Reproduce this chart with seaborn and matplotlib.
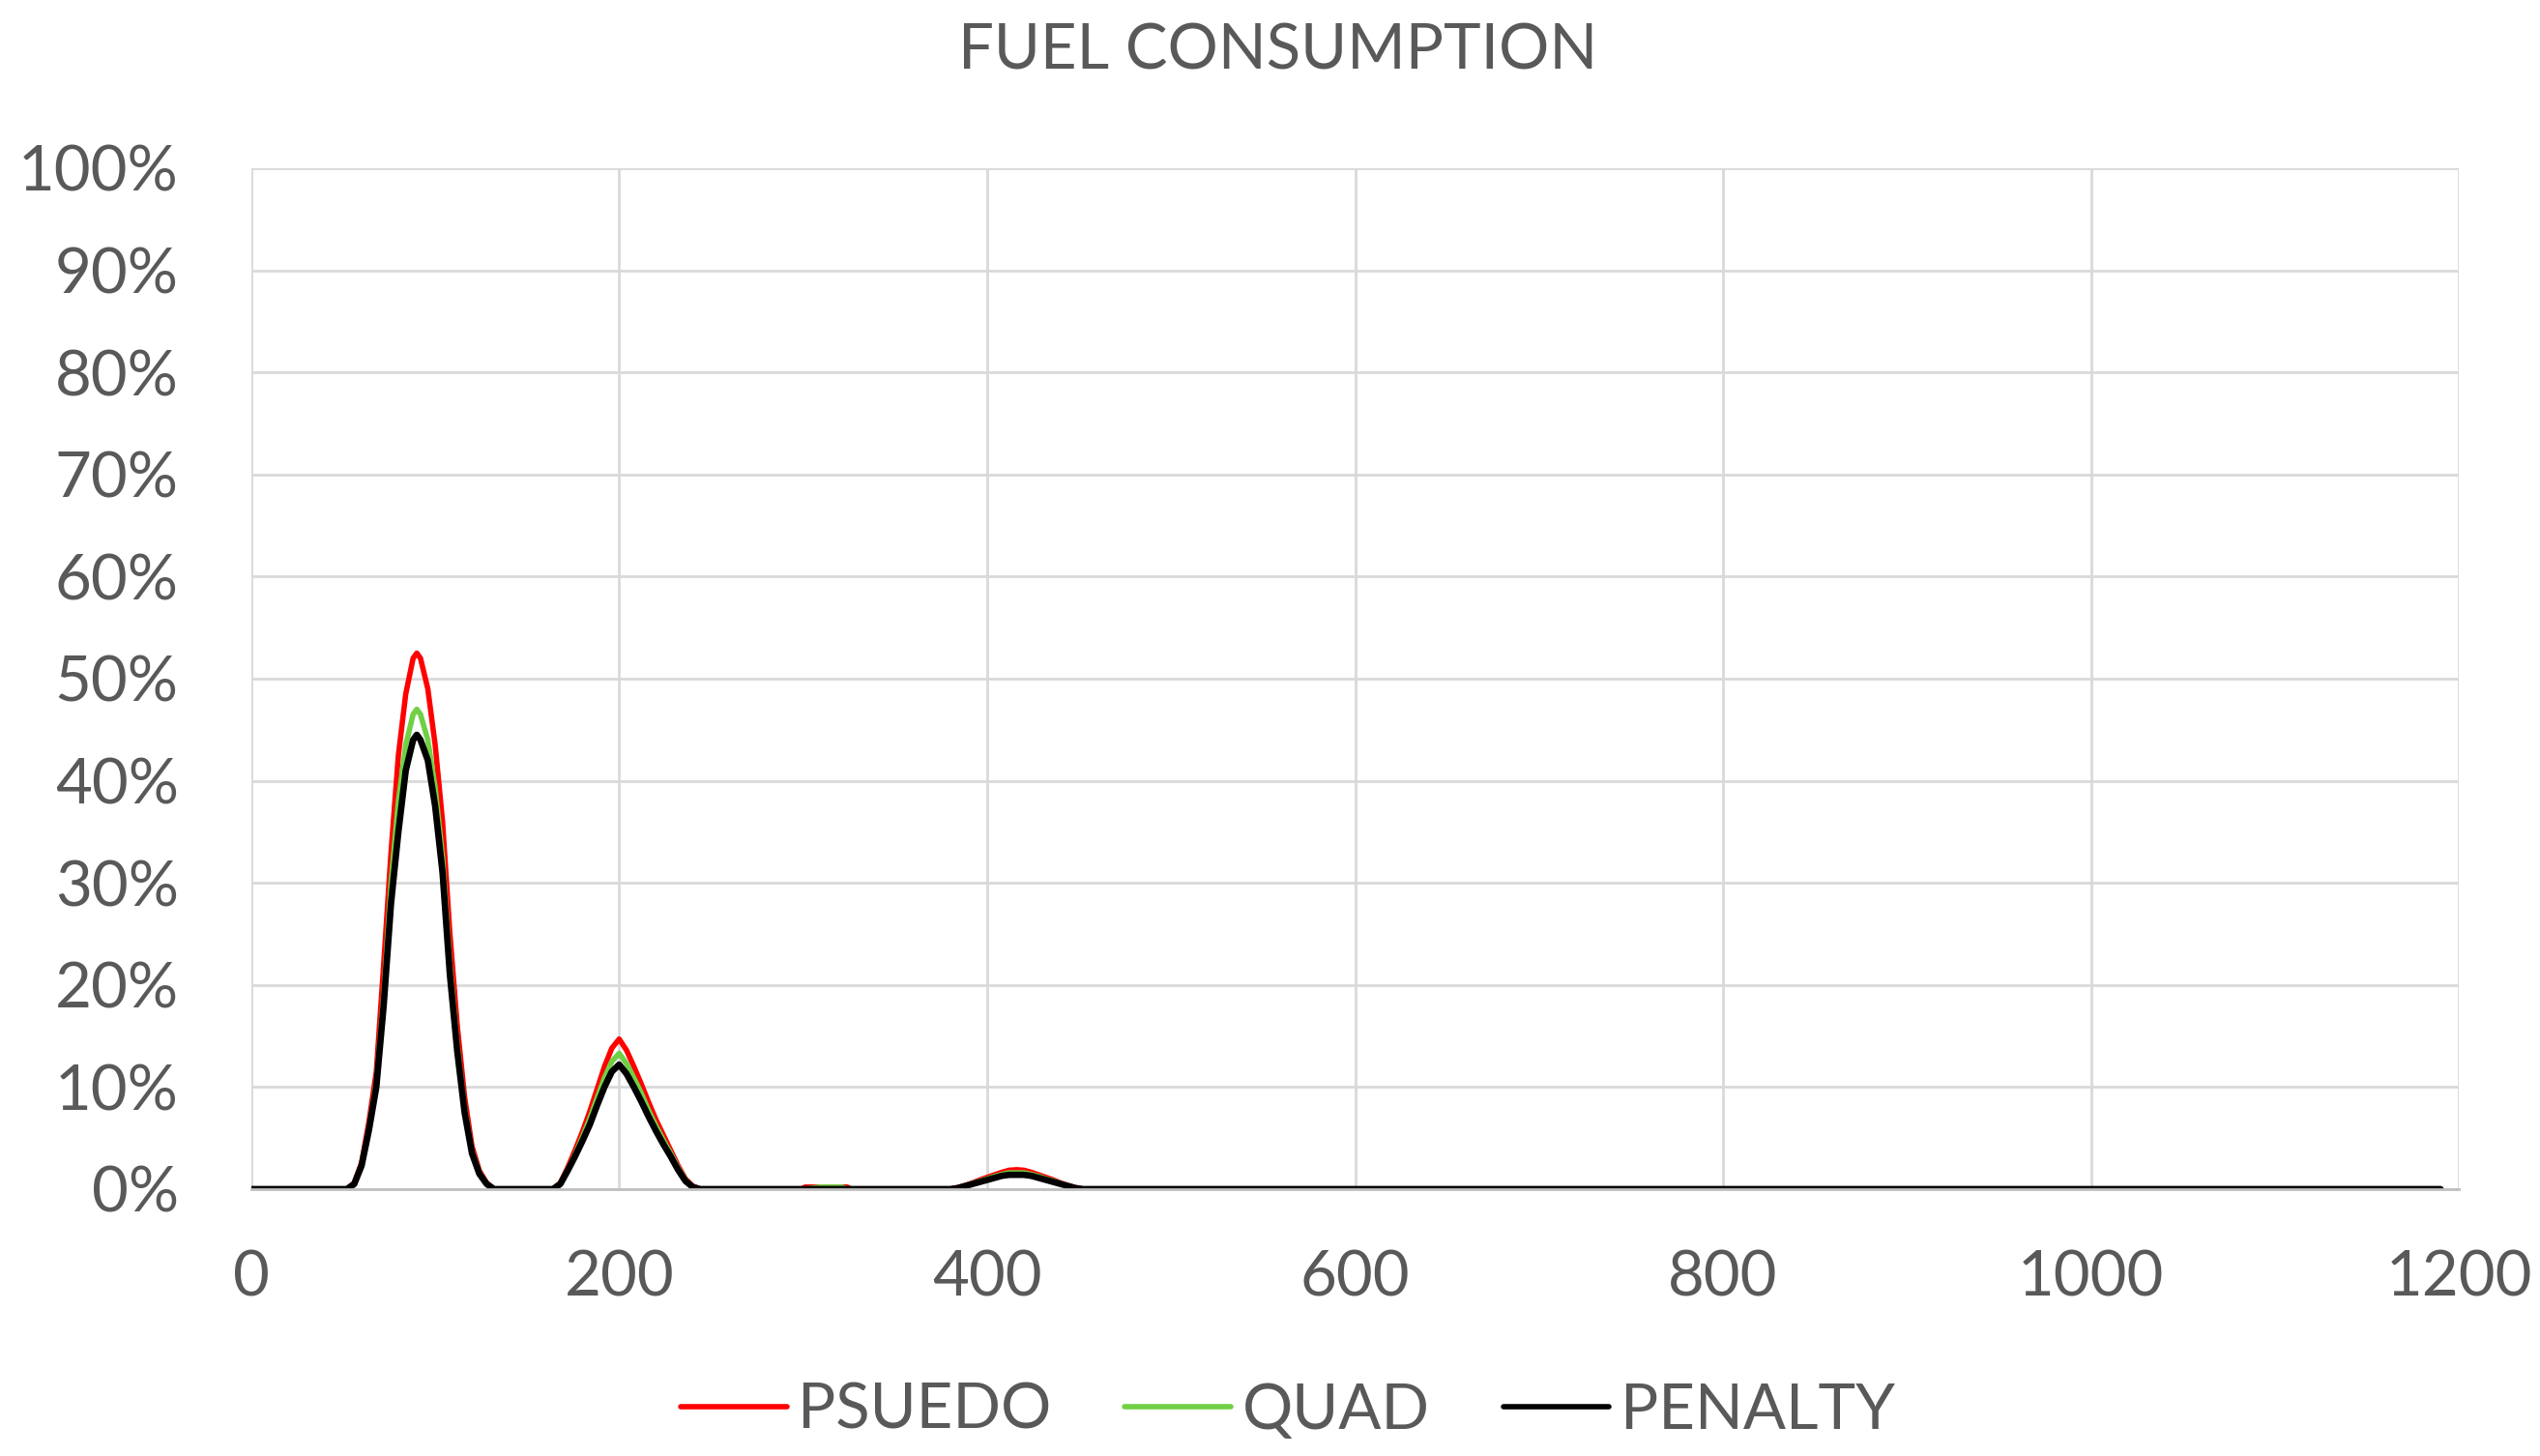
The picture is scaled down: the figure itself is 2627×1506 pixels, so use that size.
"""Fuel consumption distribution for three solvers."""

import matplotlib.pyplot as plt
import pandas as pd
import seaborn as sns
from matplotlib.ticker import PercentFormatter

# x positions (fuel consumption)
x_vals = [
    0, 52, 56, 60, 64, 68, 72, 76, 80, 84, 88, 90, 92, 96, 100, 104, 108,
    112, 116, 120, 124, 128, 132,
    164, 168, 172, 176, 180, 184, 188, 192, 196, 200, 204, 208, 212, 216,
    220, 224, 228, 232, 236, 240, 244,
    299, 301, 309, 321, 324, 326,
    380, 384, 388, 392, 396, 400, 404, 408, 412, 416, 420, 424, 428, 432,
    436, 440, 444, 448, 452,
    1190,
]

# share of runs (%) per series
psuedo = [
    0, 0, 0.6, 2.6, 6.6, 11.5, 22, 33, 42.5, 48.5, 52, 52.5, 52, 49, 43.5,
    36, 25, 16, 9, 4.2, 1.8, 0.6, 0,
    0, 0.6, 2.1, 3.8, 5.6, 7.6, 9.8, 12, 13.8, 14.7, 13.6, 12, 10.3, 8.5,
    6.8, 5.3, 3.8, 2.3, 1, 0.3, 0,
    0, 0.2, 0.2, 0.2, 0.2, 0,
    0, 0.15, 0.35, 0.6, 0.9, 1.15, 1.4, 1.65, 1.85, 1.9, 1.85, 1.65, 1.4,
    1.15, 0.9, 0.6, 0.35, 0.15, 0,
    0,
]
quad = [
    0, 0, 0.5, 2.4, 6, 10.5, 19, 30, 38, 43.5, 46.5, 47, 46.5, 44, 39.3,
    32.5, 22, 14.2, 7.9, 3.7, 1.6, 0.5, 0,
    0, 0.5, 1.9, 3.4, 5.1, 6.9, 8.9, 10.9, 12.5, 13.3, 12.3, 10.9, 9.4, 7.7,
    6.2, 4.8, 3.5, 2.1, 0.9, 0.2, 0,
    0, 0, 0.2, 0.2, 0, 0,
    0, 0.1, 0.3, 0.55, 0.8, 1.0, 1.25, 1.45, 1.6, 1.6, 1.6, 1.45, 1.25,
    1.0, 0.8, 0.55, 0.3, 0.1, 0,
    0,
]
penalty = [
    0, 0, 0.5, 2.3, 5.8, 10, 18, 28, 35, 41, 44, 44.5, 44, 42, 37.5, 31, 21,
    13.5, 7.5, 3.5, 1.5, 0.5, 0,
    0, 0.5, 1.8, 3.2, 4.7, 6.3, 8.2, 10, 11.5, 12.2, 11.3, 10, 8.6, 7.1,
    5.7, 4.4, 3.2, 1.9, 0.8, 0.2, 0,
    0, 0, 0, 0, 0, 0,
    0, 0.1, 0.3, 0.5, 0.7, 0.9, 1.1, 1.3, 1.4, 1.4, 1.4, 1.3, 1.1, 0.9,
    0.7, 0.5, 0.3, 0.1, 0,
    0,
]

series_names = ["PSUEDO", "QUAD", "PENALTY"]
colors = ["#FF0000", "#70D044", "#000000"]
widths = [4.0, 4.0, 4.8]

x_ticks = [0, 200, 400, 600, 800, 1000, 1200]
y_ticks = [0, 10, 20, 30, 40, 50, 60, 70, 80, 90, 100]

TEXT_COLOR = "#595959"
GRID_COLOR = "#D9D9D9"


def main() -> None:
    sns.set_theme(style="white")
    plt.rcParams["font.family"] = ["Lato", "DejaVu Sans"]

    df = pd.DataFrame({"x": x_vals, "PSUEDO": psuedo, "QUAD": quad,
                       "PENALTY": penalty})
    long_df = df.melt(id_vars="x", var_name="series", value_name="pct")

    fig = plt.figure(figsize=(26.27, 15.06), dpi=100)
    ax = fig.add_axes([0.0989, 0.1833, 0.8692, 0.7012])

    for name, color, lw in zip(series_names, colors, widths):
        sub = long_df[long_df["series"] == name]
        sns.lineplot(data=sub, x="x", y="pct", color=color, linewidth=lw,
                     label=name, ax=ax, sort=False, estimator=None)

    ax.set_xlim(0, 1200)
    ax.set_ylim(0, 100)
    ax.set_xticks(x_ticks)
    ax.set_yticks(y_ticks)
    ax.yaxis.set_major_formatter(PercentFormatter(decimals=0))
    ax.set_xlabel("")
    ax.set_ylabel("")

    ax.grid(True, color=GRID_COLOR, linewidth=2.0)
    ax.set_axisbelow(True)
    for side in ["top", "right", "left"]:
        ax.spines[side].set_visible(False)
    ax.spines["bottom"].set_color("#BFBFBF")
    ax.spines["bottom"].set_linewidth(2.0)

    ax.tick_params(axis="y", length=0, pad=54, labelsize=47,
                   labelcolor=TEXT_COLOR)
    ax.tick_params(axis="x", length=0, pad=45, labelsize=47,
                   labelcolor=TEXT_COLOR)

    fig.suptitle("FUEL CONSUMPTION", x=0.503, y=0.965, va="center",
                 fontsize=47, color=TEXT_COLOR)

    handles, labels = ax.get_legend_handles_labels()
    ax.get_legend().remove()
    leg = fig.legend(handles, labels, loc="center",
                     bbox_to_anchor=(0.507, 0.031), ncol=3, frameon=False,
                     fontsize=47, handlelength=1.68, handletextpad=0.18,
                     columnspacing=1.16)
    for text in leg.get_texts():
        text.set_color(TEXT_COLOR)
    for line in leg.get_lines():
        line.set_linewidth(4.0)

    fig.savefig("out.png", dpi=100)


if __name__ == "__main__":
    main()
